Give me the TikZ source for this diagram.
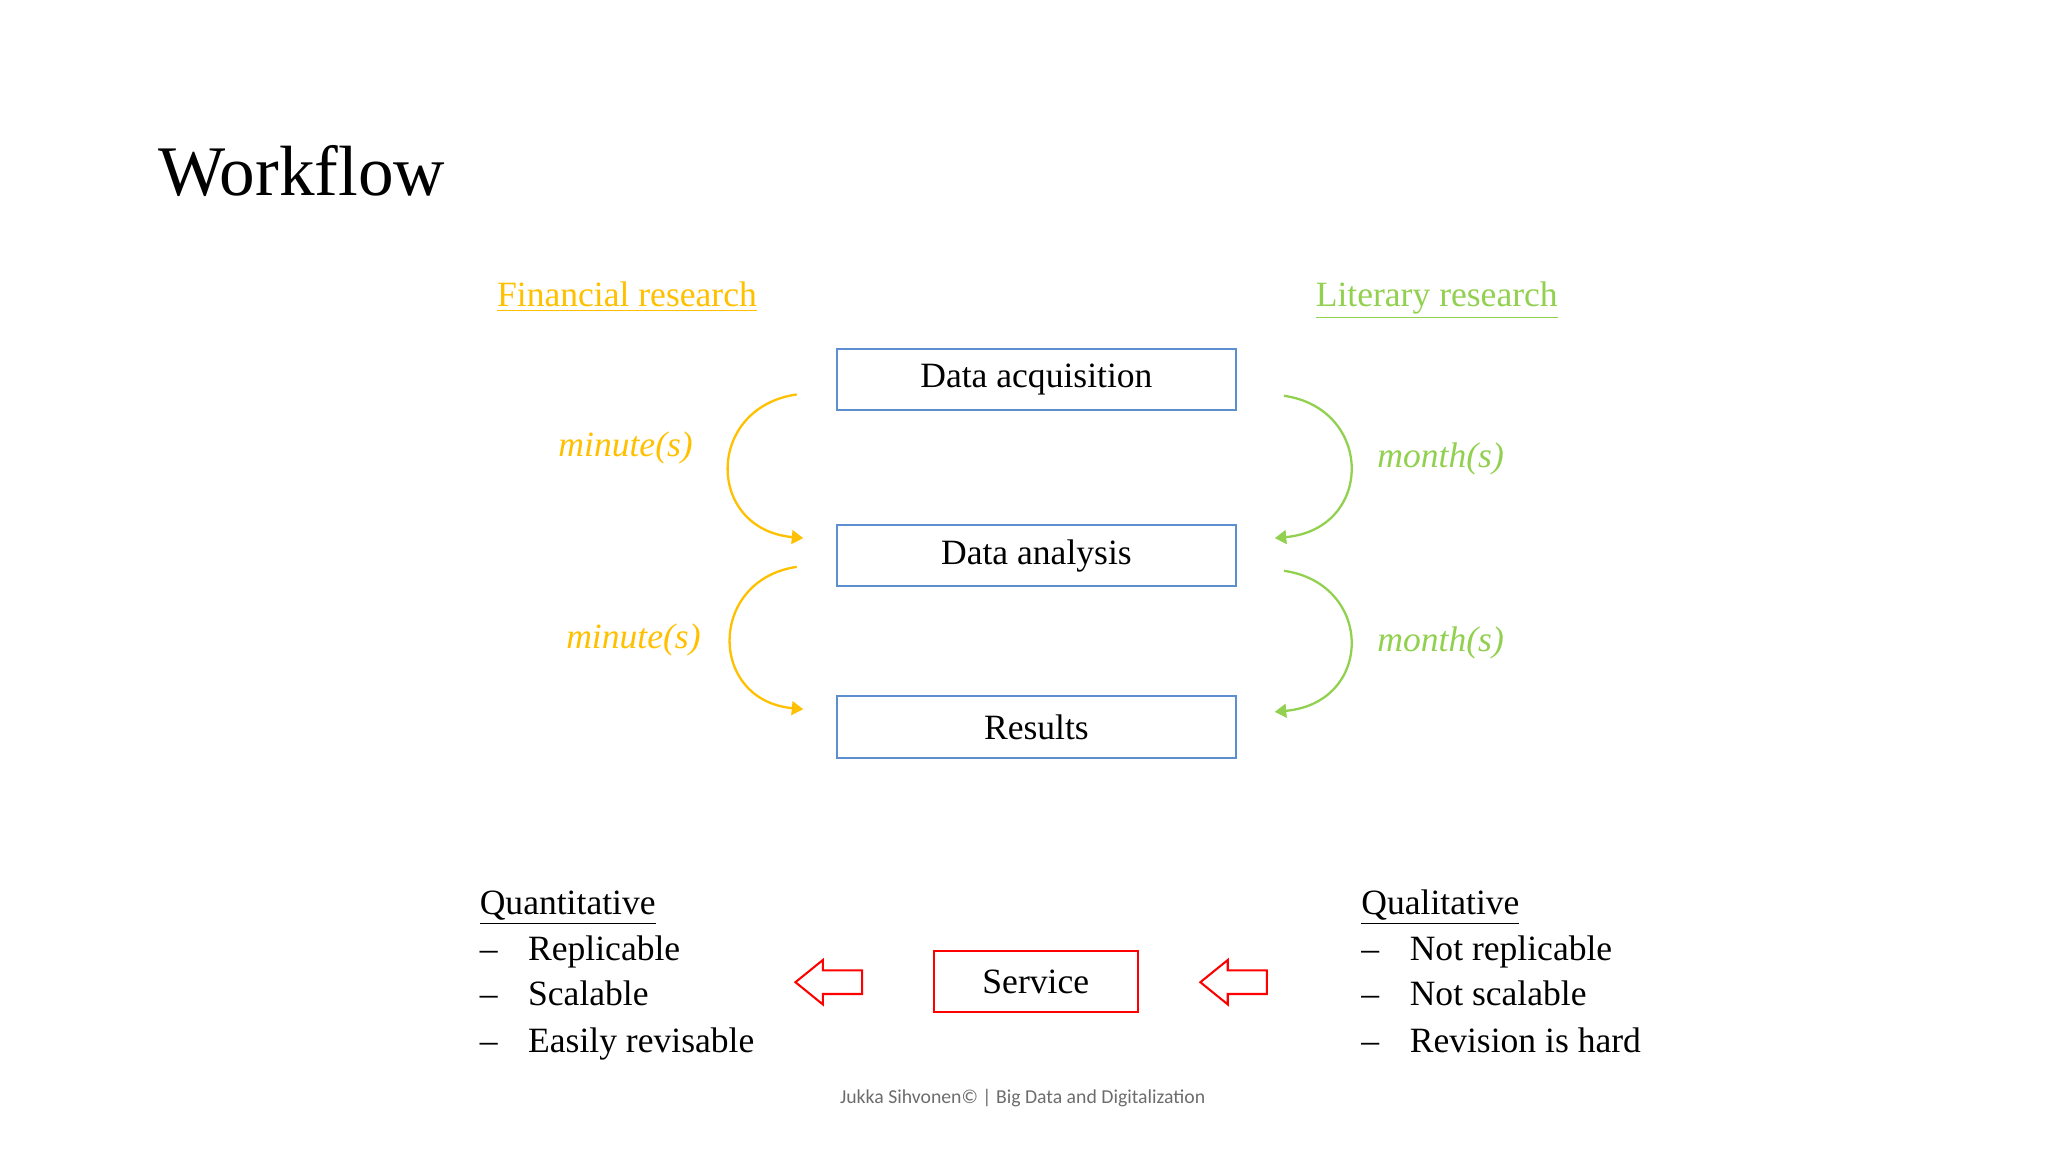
\documentclass[tikz,border=0pt]{standalone}
\usepackage{fontspec}
\setmainfont{Liberation Serif}
\newfontfamily\footfont{Carlito}
\usetikzlibrary{arrows.meta}
\definecolor{fin}{HTML}{FFC000}
\definecolor{lit}{HTML}{92D050}
\definecolor{boxb}{HTML}{5B8FD0}
\tikzset{
  box/.style={draw=boxb,line width=0.9pt,minimum width=6.1cm,minimum height=0.94cm,font=\fontsize{15.5}{18}\selectfont,inner sep=0pt},
  finarc/.style={draw=fin,line width=1pt,-{Triangle[length=5pt,width=6pt]}},
  litarc/.style={draw=lit,line width=1pt,-{Triangle[length=5pt,width=6pt]}},
  lab/.style={font=\fontsize{15.5}{18}\selectfont\itshape},
  txt/.style={font=\fontsize{15.5}{18}\selectfont,anchor=base west,inner sep=0pt},
  blk/.style={draw=red,fill=white,line width=0.9pt}
}
\begin{document}
\begin{tikzpicture}[x=0.02cm,y=-0.02cm]
\useasboundingbox (0,0) rectangle (1568,882);
\node[anchor=base west,inner sep=0pt,font=\fontsize{31}{36}\selectfont] (title) at (121,150) {Workflow};
\node[fin,font=\fontsize{15.5}{18}\selectfont,inner sep=0pt,anchor=base] (fin) at (480,235) {\underline{Financial research}};
\node[lit,font=\fontsize{15.5}{18}\selectfont,inner sep=0pt,anchor=base] (lit) at (1100,235) {\underline{Literary research}};
\node[box] (acq) at (793.5,290.5) {Data acquisition};
\node[box] (ana) at (793.5,425.5) {Data analysis};
\node[box] (res) at (793.5,556.5) {Results};
\coordinate (l1s) at (610,302); \coordinate (l1e) at (615,412);
\coordinate (l2s) at (610,434); \coordinate (l2e) at (615,543);
\coordinate (r1s) at (983,303); \coordinate (r1e) at (976,412);
\coordinate (r2s) at (983,437); \coordinate (r2e) at (976,545);
\draw[finarc] (l1s) .. controls (540,312) and (540,405) .. (l1e);
\draw[finarc] (l2s) .. controls (542,444) and (542,536) .. (l2e);
\draw[litarc] (r1s) .. controls (1052,313) and (1052,405) .. (r1e);
\draw[litarc] (r2s) .. controls (1052,447) and (1052,538) .. (r2e);
\node[lab,fin] (m1) at (479,343) {minute(s)};
\node[lab,fin] (m2) at (485,490) {minute(s)};
\node[lab,lit] (mo1) at (1103,351) {month(s)};
\node[lab,lit] (mo2) at (1103,492) {month(s)};
\node[txt] (qn) at (367,700) {\underline{Quantitative}};
\node[txt] (q1d) at (367,735) {–}; \node[txt] (q1) at (404,735) {Replicable};
\node[txt] (q2d) at (367,770) {–}; \node[txt] (q2) at (404,770) {Scalable};
\node[txt] (q3d) at (367,806) {–}; \node[txt] (q3) at (404,806) {Easily revisable};
\node[txt] (ql) at (1042,700) {\underline{Qualitative}};
\node[txt] (l1d) at (1042,735) {–}; \node[txt] (l1) at (1079,735) {Not replicable};
\node[txt] (l2d) at (1042,770) {–}; \node[txt] (l2) at (1079,770) {Not scalable};
\node[txt] (l3d) at (1042,806) {–}; \node[txt] (l3) at (1079,806) {Revision is hard};
\node[box,draw=red,minimum width=3.12cm] (svc) at (793,751.5) {Service};
\draw[blk] (609,752) -- (630,735) -- (630,743) -- (660,743) -- (660,761) -- (630,761) -- (630,769) -- cycle;
\draw[blk] (919,752) -- (940,735) -- (940,743) -- (970,743) -- (970,761) -- (940,761) -- (940,769) -- cycle;
\node[font=\footfont\fontsize{8.6}{10}\selectfont,text=gray!85!black] (foot) at (783,841) {Jukka Sihvonen© | Big Data and Digitalization};
\end{tikzpicture}
\end{document}
